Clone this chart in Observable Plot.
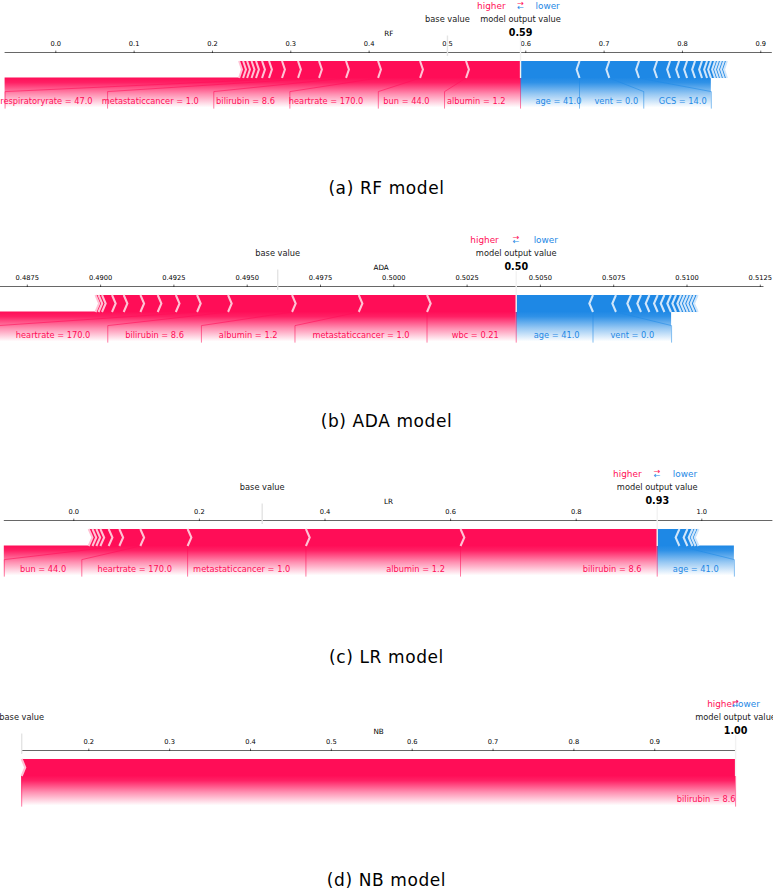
<!DOCTYPE html>
<html><head><meta charset="utf-8">
<script src="https://cdn.jsdelivr.net/npm/d3@7"></script>
<script src="https://cdn.jsdelivr.net/npm/@observablehq/plot@0.6"></script>
<style>
body{margin:0;background:#fff;}
#root{position:relative;width:773px;height:889px;overflow:hidden;background:#fff;}
.panel{position:absolute;left:0;}
.cap{position:absolute;left:0;width:773px;text-align:center;font-family:"DejaVu Sans";font-size:17px;letter-spacing:0.6px;color:#000;line-height:1.164em;white-space:nowrap;}
</style></head><body><div id="root"></div>
<script>
// ---------------- data ----------------
const models = ["RF", "ADA", "LR", "NB"];
const captions = ["(a) RF model", "(b) ADA model", "(c) LR model", "(d) NB model"];
const baseValues = [0.500, 0.49604, 0.300, 0.117];
const outValues = [0.5933, 0.504175, 0.929, 1.000];

// RF
const rfPosNames = ["albumin", "bun", "heartrate", "bilirubin", "metastaticcancer", "respiratoryrate"];
const rfPosValues = ["1.2", "44.0", "170.0", "8.6", "1.0", "47.0"];
const rfPosEffects = [0.0696, 0.0587, 0.0536, 0.0409, 0.0345, 0.0268, 0.0204, 0.0166, 0.0089, 0.0077, 0.0057, 0.0057, 0.0051, 0.0051];
const rfNegNames = ["age", "vent", "GCS"];
const rfNegValues = ["41.0", "0.0", "14.0"];
const rfNegEffects = [0.0753, 0.0380, 0.0380, 0.0230, 0.0166, 0.0115, 0.0102, 0.0102, 0.0089, 0.0064, 0.0051, 0.0051, 0.0038, 0.0038, 0.0038, 0.0038];
const rfTicks = [0.0, 0.1, 0.2, 0.3, 0.4, 0.5, 0.6, 0.7, 0.8, 0.9];

// ADA
const adaPosNames = ["wbc", "metastaticcancer", "albumin", "bilirubin", "heartrate"];
const adaPosValues = ["0.21", "1.0", "1.2", "8.6", "170.0"];
const adaPosEffects = [0.003042, 0.002329, 0.002275, 0.002183, 0.001057, 0.000723, 0.000618, 0.000590, 0.000570, 0.000399, 0.000341, 0.000119, 0.000102];
const adaNegNames = ["age", "vent"];
const adaNegValues = ["41.0", "0.0"];
const adaNegEffects = [0.002619, 0.000784, 0.000512, 0.000341, 0.000286, 0.000283, 0.000229, 0.000225, 0.000171, 0.000171, 0.000116, 0.000113, 0.000113, 0.000113, 0.000113];
const adaTicks = [0.4875, 0.4900, 0.4925, 0.4950, 0.4975, 0.5000, 0.5025, 0.5050, 0.5075, 0.5100, 0.5125];

// LR
const lrPosNames = ["bilirubin", "albumin", "metastaticcancer", "heartrate", "bun"];
const lrPosValues = ["8.6", "1.2", "1.0", "170.0", "44.0"];
const lrPosEffects = [0.3132, 0.2462, 0.1884, 0.0753, 0.0334, 0.0170, 0.0132, 0.0064, 0.0062, 0.0060];
const lrNegNames = ["age"];
const lrNegValues = ["41.0"];
const lrNegEffects = [0.0354, 0.0127, 0.0080, 0.0049, 0.0048];
const lrTicks = [0.0, 0.2, 0.4, 0.6, 0.8, 1.0];

// NB
const nbPosNames = ["bilirubin"];
const nbPosValues = ["8.6"];
const nbPosEffects = [0.883];
const nbNegNames = [];
const nbNegValues = [];
const nbNegEffects = [];
const nbTicks = [0.2, 0.3, 0.4, 0.5, 0.6, 0.7, 0.8, 0.9];

const tickFormats = [".1f", ".4f", ".1f", ".1f"];

const panels = [
  {posNames: rfPosNames, posValues: rfPosValues, posEff: rfPosEffects, negNames: rfNegNames, negValues: rfNegValues, negEff: rfNegEffects, ticks: rfTicks},
  {posNames: adaPosNames, posValues: adaPosValues, posEff: adaPosEffects, negNames: adaNegNames, negValues: adaNegValues, negEff: adaNegEffects, ticks: adaTicks},
  {posNames: lrPosNames, posValues: lrPosValues, posEff: lrPosEffects, negNames: lrNegNames, negValues: lrNegValues, negEff: lrNegEffects, ticks: lrTicks},
  {posNames: nbPosNames, posValues: nbPosValues, posEff: nbPosEffects, negNames: nbNegNames, negValues: nbNegValues, negEff: nbNegEffects, ticks: nbTicks}
].map((p, i) => ({...p, name: models[i], base: baseValues[i], out: outValues[i], caption: captions[i], fmt: tickFormats[i]}));

// ---------------- layout / style ----------------
const layout = [
  {axisY: 52.2, ref: 0, refPx: 55.3, k: 783.3, measureRatio: 0.785, captionBase: 195},
  {axisY: 285.5, ref: 0.5, refPx: 393.3, k: 29320, measureRatio: 1, captionBase: 428},
  {axisY: 519.6, ref: 0, refPx: 73.3, k: 628, measureRatio: 1, captionBase: 664},
  {axisY: 749.8, ref: 0.2, refPx: 88.3, k: 808.5, measureRatio: 1, captionBase: 887}
];
const W = 773, M = 52, PXY = 170, SVG_H = 125;
const FONT = "DejaVu Sans";
const LABEL_FS = 8.25, TICK_FS = 6.7, OUT_FS = 9.6, HL_FS = 8.9, AXLAB_FS = 7.2;
const RED = "#FF0D57", RED_SEP = "#FFC3D5", BLUE = "#1E88E5", BLUE_SEP = "#D1E6FA";

const ctx = document.createElement("canvas").getContext("2d");
function textWidth(s, size, weight = "normal") {
  ctx.font = `${weight} ${size}px "${FONT}"`;
  return ctx.measureText(s).width;
}

const root = document.getElementById("root");

function buildPanel(i) {
  const P = panels[i], L = layout[i];
  const pxOf = v => L.refPx + L.k * (v - L.ref);
  const inv = px => L.ref + (px - L.refPx) / L.k;

  const posB = []; let c = P.out;
  for (const e of P.posEff) { c -= Math.abs(e); posB.push(c); }
  const negB = []; c = P.out;
  for (const e of P.negEff) { c += Math.abs(e); negB.push(c); }
  const totalPos = posB.length ? d3.max(posB) - d3.min(posB) : 0;
  const totalNeg = negB.length ? d3.max(negB) - d3.min(negB) : 0;
  const offsetText = (Math.abs(totalNeg) + Math.abs(totalPos)) * 0.04;
  const padding = Math.max(Math.abs(totalPos) * 0.2, Math.abs(totalNeg) * 0.2);
  const minX0 = posB.length ? Math.min(d3.min(posB), P.base) - padding : P.out - padding;
  const maxX0 = negB.length ? Math.max(d3.max(negB), P.base) + padding : P.out + padding;
  const wSep = (maxX0 - minX0) / 200;

  // bars and separators
  const barPts = {pos: [], neg: []}, sepPts = {pos: [], neg: []};
  function bars(bounds, type) {
    let pre = P.out;
    bounds.forEach((b, j) => {
      let left, right, ind, sp;
      if (type === "pos") { left = b; right = pre; pre = left; ind = Math.abs(wSep); sp = left; }
      else { left = pre; right = b; pre = right; ind = -Math.abs(wSep); sp = right; }
      let pts;
      if (j === 0) {
        pts = type === "pos"
          ? [[left, 0], [right, 0], [right, 0.1], [left, 0.1], [left + ind, 0.05]]
          : [[right, 0], [left, 0], [left, 0.1], [right, 0.1], [right + ind, 0.05]];
      } else {
        pts = [[left, 0], [right, 0], [right + ind * 0.9, 0.05], [right, 0.1], [left, 0.1], [left + ind * 0.9, 0.05]];
      }
      const g = type + j;
      pts.forEach(([x, y]) => barPts[type].push({x, y, g}));
      [[sp, 0], [sp + ind, 0.05], [sp, 0.1]].forEach(([x, y]) => sepPts[type].push({x, y, g}));
    });
  }
  bars(negB, "neg");
  bars(posB, "pos");

  // labels
  const totalEffect = Math.abs(totalNeg) + totalPos;
  const labelTexts = {pos: [], neg: []}, connectors = {pos: [], neg: []}, shade = {};
  function labels(bounds, names, values, type) {
    const sign = type === "pos" ? 1 : -1;
    const outPx = pxOf(P.out);
    let start = outPx, pre = P.out, boxEnd = outPx;
    if (type === "pos") {
      connectors.pos.push({x: P.out, y: 0, g: "init"}, {x: P.out, y: -0.18, g: "init"});
    }
    for (let j = 0; j < bounds.length && j < names.length; j++) {
      const val = bounds[j];
      const contrib = Math.abs(val - pre) / Math.abs(totalEffect);
      if (contrib < 0.05) break;
      const text = names[j] + " = " + values[j];
      const w = textWidth(text, LABEL_FS) * L.measureRatio;
      const anchorPx = start - sign * offsetText * L.k;
      const boxEndM = type === "pos" ? anchorPx - w : anchorPx + w;
      if (type === "neg" && boxEndM > pxOf(maxX0)) break;
      labelTexts[type].push({x: inv(anchorPx), y: -0.15, text});
      const valPx = pxOf(val), g = type + "l" + j;
      if (sign * boxEndM > sign * valPx) {
        connectors[type].push({x: val, y: 0, g}, {x: val, y: -0.18, g});
        start = valPx; boxEnd = valPx;
      } else {
        boxEnd = boxEndM - sign * offsetText * L.k;
        const be = inv(boxEnd);
        connectors[type].push({x: val, y: 0, g}, {x: be, y: -0.08, g}, {x: be, y: -0.18, g});
        start = boxEnd;
      }
      pre = val;
    }
    const be = inv(boxEnd);
    shade[type] = {x1: Math.min(P.out, be), x2: Math.max(P.out, be), y1: -0.2, y2: 0};
    return be;
  }
  const negEnd = labels(negB, P.negNames, P.negValues, "neg");
  const posEnd = labels(posB, P.posNames, P.posValues, "pos");
  const d0 = Math.min(minX0, posEnd), d1 = Math.max(maxX0, negEnd);

  const txt = (data, o) => Plot.text(data, {x: "x", y: "y", text: "text", lineAnchor: "bottom", ...o});
  const lineOpts = (o) => ({x: "x", y: "y", z: "g", ...o});

  const marks = [
    Plot.rect([shade.neg], {x1: "x1", x2: "x2", y1: "y1", y2: "y2", fill: `url(#gneg${i})`}),
    Plot.rect([shade.pos], {x1: "x1", x2: "x2", y1: "y1", y2: "y2", fill: `url(#gpos${i})`}),
    Plot.line(barPts.neg, lineOpts({fill: BLUE, stroke: "none", curve: "linear-closed"})),
    Plot.line(sepPts.neg, lineOpts({stroke: BLUE_SEP, strokeWidth: 2.07, strokeLinejoin: "miter", strokeLinecap: "butt", strokeMiterlimit: 10})),
    Plot.line(barPts.pos, lineOpts({fill: RED, stroke: "none", curve: "linear-closed"})),
    Plot.line(sepPts.pos, lineOpts({stroke: RED_SEP, strokeWidth: 2.07, strokeLinejoin: "miter", strokeLinecap: "butt", strokeMiterlimit: 10})),
    Plot.ruleY([{y: 0.15, x1: d0, x2: d1}], {y: "y", x1: "x1", x2: "x2", stroke: "#000", strokeWidth: 0.6}),
    Plot.axisX(P.ticks, {anchor: "top", tickSize: 2.4, tickPadding: 4, fontSize: TICK_FS, strokeWidth: 0.6, tickFormat: d3.format(P.fmt), label: null, fill: "#000"}),
    Plot.line(connectors.neg, lineOpts({stroke: BLUE, strokeOpacity: 0.55, strokeWidth: 1, strokeLinejoin: "miter", strokeLinecap: "butt"})),
    Plot.line(connectors.pos, lineOpts({stroke: RED, strokeOpacity: 0.55, strokeWidth: 1, strokeLinejoin: "miter", strokeLinecap: "butt"})),
    // output value line & base value line
    Plot.line([{x: P.out, y: 0, g: 0}, {x: P.out, y: 0.24, g: 0}], lineOpts({stroke: "#F2F2F2", strokeWidth: 1.4, strokeLinecap: "butt"})),
    Plot.line([{x: P.base, y: 0.13, g: 0}, {x: P.base, y: 0.25, g: 0}], lineOpts({stroke: "#E4E4E4", strokeWidth: 1.4, strokeLinecap: "butt"})),
    // labels
    txt(labelTexts.neg, {textAnchor: "start", fill: BLUE, fontSize: LABEL_FS}),
    txt(labelTexts.pos, {textAnchor: "end", fill: RED, fontSize: LABEL_FS}),
    // higher / lower
    txt([{x: P.out - offsetText, y: 0.405, text: "higher"}], {textAnchor: "end", fill: RED, fontSize: HL_FS}),
    txt([{x: P.out + offsetText, y: 0.405, text: "lower"}], {textAnchor: "start", fill: BLUE, fontSize: HL_FS}),
    txt([{x: P.out, y: 0.4, text: "\u2190"}], {textAnchor: "middle", fill: BLUE, fontSize: HL_FS * 0.9}),
    txt([{x: P.out, y: 0.425, text: "\u2192"}], {textAnchor: "middle", fill: RED, fontSize: HL_FS * 0.9}),
    // base value / output value
    txt([{x: P.base, y: 0.33, text: "base value"}], {textAnchor: "middle", fill: "#222", fontSize: LABEL_FS}),
    txt([{x: P.out, y: 0.33, text: "model output value"}], {textAnchor: "middle", fill: "#222", fontSize: LABEL_FS}),
    txt([{x: P.out, y: 0.25, text: d3.format(".2f")(P.out)}], {textAnchor: "middle", fill: "#000", fontSize: OUT_FS, fontWeight: "bold"}),
    // axis name
    txt([{x: (d0 + d1) / 2, y: 0.15 + 16.3 / PXY, text: P.name}], {textAnchor: "middle", fill: "#000", fontSize: AXLAB_FS})
  ];

  const svg = Plot.plot({
    width: W,
    height: SVG_H,
    marginTop: M, marginBottom: 0, marginLeft: 0, marginRight: 0,
    x: {type: "linear", domain: [d0, d1], range: [pxOf(d0), pxOf(d1)]},
    y: {type: "linear", domain: [-0.5, 0.15], range: [M + 0.65 * PXY, M], axis: null},
    style: {fontFamily: FONT, background: "transparent", overflow: "visible"},
    marks
  });

  // gradient definitions for the label shading
  const ns = "http://www.w3.org/2000/svg";
  const defs = document.createElementNS(ns, "defs");
  [["gpos" + i, RED], ["gneg" + i, BLUE]].forEach(([id, col]) => {
    const lg = document.createElementNS(ns, "linearGradient");
    lg.setAttribute("id", id);
    lg.setAttribute("x1", "0"); lg.setAttribute("y1", "0");
    lg.setAttribute("x2", "0"); lg.setAttribute("y2", "1");
    [[0, 1], [0.15, 0.92], [0.5, 0.45], [0.88, 0]].forEach(([o, a]) => {
      const s = document.createElementNS(ns, "stop");
      s.setAttribute("offset", o);
      s.setAttribute("stop-color", col);
      s.setAttribute("stop-opacity", a);
      lg.appendChild(s);
    });
    defs.appendChild(lg);
  });
  svg.insertBefore(defs, svg.firstChild);

  const wrap = document.createElement("div");
  wrap.className = "panel";
  wrap.style.top = (L.axisY - M) + "px";
  wrap.appendChild(svg);
  root.appendChild(wrap);

  const cap = document.createElement("div");
  cap.className = "cap";
  cap.textContent = P.caption;
  cap.style.top = (L.captionBase - 0.928 * 17) + "px";
  root.appendChild(cap);
}

panels.forEach((_, i) => buildPanel(i));
</script>
</body></html>
